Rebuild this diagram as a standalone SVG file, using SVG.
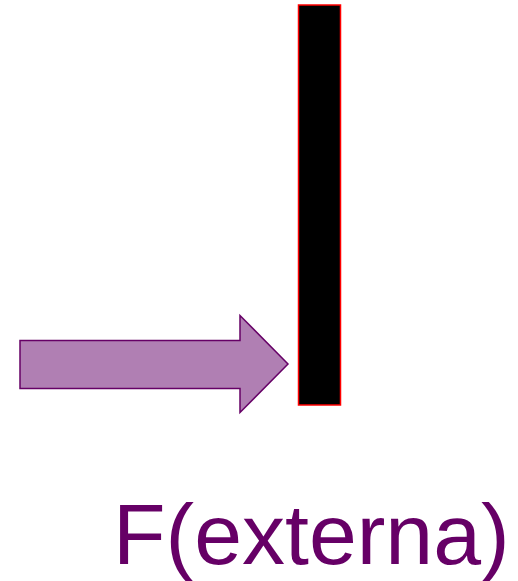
<svg xmlns="http://www.w3.org/2000/svg" width="518" height="581" viewBox="0 0 518 581">
<style>
.lbl{font-family:"Liberation Sans",Arial,sans-serif;font-size:86px;fill:#660066}
</style>
<rect width="518" height="581" fill="#ffffff"/>
<g id="wall">
<rect x="298.5" y="5" width="42" height="400" fill="#000000" stroke="#ff0000" stroke-width="1.5"/>
</g>
<g id="connectors">
<g id="force-arrow">
<polygon points="20,340.5 240,340.5 240,315.5 288,364 240,412.5 240,388.5 20,388.5" fill="#b07fb3" stroke="#660066" stroke-width="1.5" stroke-linejoin="miter"/>
</g>
</g>
<g id="label">
<text class="lbl" x="113" y="564">F(externa)</text>
</g>
</svg>
